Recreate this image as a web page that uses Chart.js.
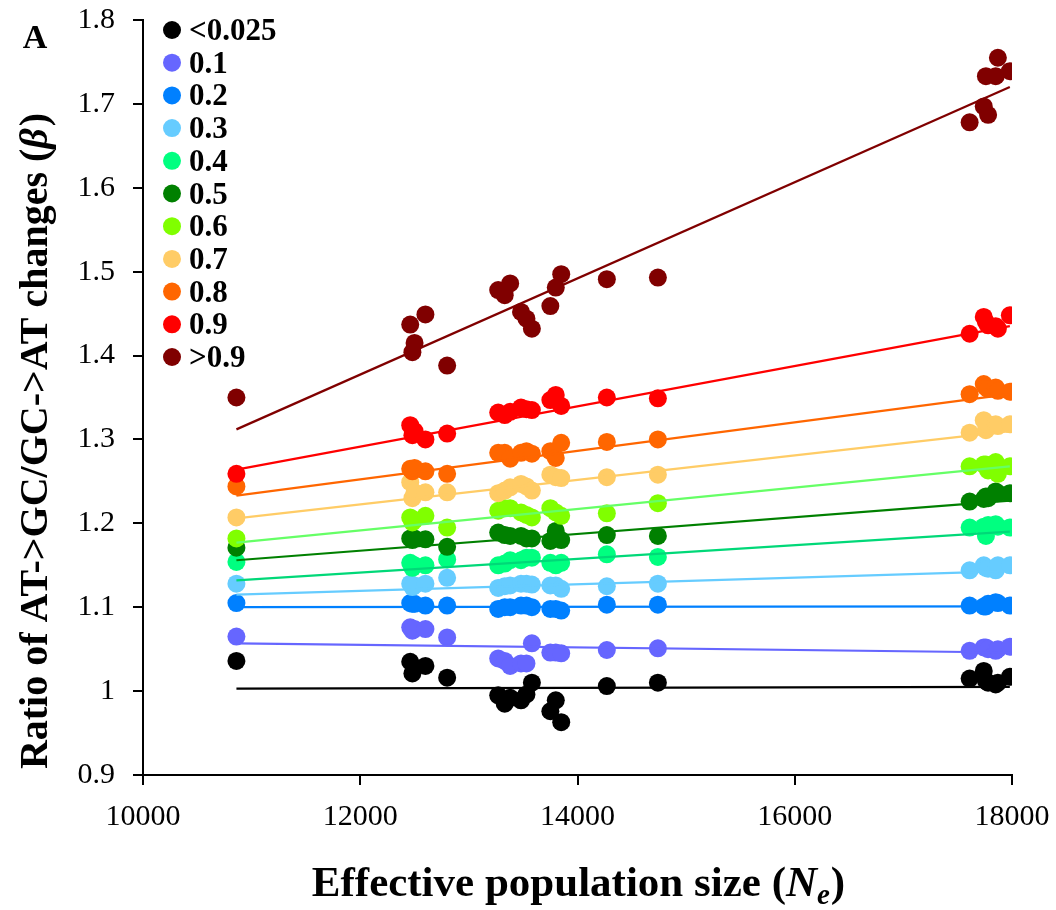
<!DOCTYPE html>
<html>
<head>
<meta charset="utf-8">
<script src="https://cdn.jsdelivr.net/npm/chart.js@4.4.1/dist/chart.umd.min.js"></script>
<style>
  html, body { margin: 0; padding: 0; background: #fff; }
</style>
</head>
<body>
<canvas id="chart" width="1056" height="910"></canvas>
<script>
// Effective population size of each population (shared by every series)
const NE = [10860, 12460, 12480, 12500, 12600, 12800,
  13270, 13330, 13380, 13480, 13530, 13580, 13750, 13800, 13850,
  14270, 14740, 17610, 17740, 17760, 17780, 17850, 17870, 17980];

const LEVELS = ["<0.025", "0.1", "0.2", "0.3", "0.4", "0.5", "0.6", "0.7", "0.8", "0.9", ">0.9"];
const COLORS = ["#000000", "#6666ff", "#0080ff", "#66ccff", "#00ff80", "#008000",
  "#80ff00", "#ffcc66", "#ff6600", "#ff0000", "#800000"];
const LINE_COLORS = ["#000000", "#6666ff", "#0080ff", "#66ccff", "#00d878", "#008000",
  "#66ff66", "#ffcc66", "#ff6600", "#ff0000", "#800000"];

// beta per population, one array per frequency class
const ratioBelow0025 = [1.036, 1.035, 1.021, 1.028, 1.030, 1.016, 0.995, 0.985, 0.992, 0.989, 0.996, 1.010, 0.976, 0.989, 0.963, 1.006, 1.010, 1.015, 1.024, 1.012, 1.010, 1.008, 1.010, 1.017];
const ratio01 = [1.065, 1.076, 1.072, 1.074, 1.074, 1.064, 1.039, 1.036, 1.030, 1.033, 1.033, 1.057, 1.046, 1.046, 1.045, 1.049, 1.051, 1.048, 1.052, 1.052, 1.050, 1.048, 1.050, 1.053];
const ratio02 = [1.105, 1.105, 1.104, 1.104, 1.102, 1.102, 1.098, 1.100, 1.100, 1.102, 1.102, 1.100, 1.098, 1.098, 1.096, 1.103, 1.103, 1.102, 1.101, 1.101, 1.104, 1.106, 1.105, 1.102];
const ratio03 = [1.128, 1.128, 1.124, 1.126, 1.128, 1.135, 1.123, 1.125, 1.126, 1.128, 1.128, 1.127, 1.126, 1.126, 1.122, 1.125, 1.128, 1.144, 1.150, 1.147, 1.146, 1.144, 1.150, 1.150];
const ratio04 = [1.154, 1.153, 1.147, 1.150, 1.150, 1.157, 1.150, 1.152, 1.156, 1.156, 1.159, 1.159, 1.153, 1.150, 1.153, 1.163, 1.160, 1.195, 1.196, 1.185, 1.198, 1.199, 1.196, 1.195];
const ratio05 = [1.171, 1.182, 1.180, 1.182, 1.181, 1.172, 1.189, 1.186, 1.185, 1.185, 1.182, 1.182, 1.179, 1.191, 1.180, 1.186, 1.185, 1.226, 1.229, 1.232, 1.230, 1.238, 1.236, 1.236];
const ratio06 = [1.182, 1.207, 1.201, 1.204, 1.209, 1.195, 1.215, 1.218, 1.218, 1.213, 1.210, 1.207, 1.218, 1.213, 1.209, 1.212, 1.224, 1.268, 1.270, 1.270, 1.263, 1.273, 1.259, 1.268];
const ratio07 = [1.207, 1.249, 1.230, 1.237, 1.237, 1.237, 1.236, 1.239, 1.243, 1.247, 1.244, 1.239, 1.258, 1.255, 1.254, 1.255, 1.258, 1.308, 1.323, 1.311, 1.318, 1.318, 1.316, 1.318];
const ratio08 = [1.244, 1.265, 1.262, 1.266, 1.262, 1.259, 1.284, 1.284, 1.277, 1.284, 1.286, 1.283, 1.286, 1.278, 1.296, 1.297, 1.300, 1.354, 1.366, 1.362, 1.360, 1.362, 1.358, 1.357];
const ratio09 = [1.259, 1.317, 1.305, 1.310, 1.300, 1.307, 1.332, 1.329, 1.333, 1.338, 1.336, 1.335, 1.347, 1.353, 1.340, 1.350, 1.349, 1.426, 1.446, 1.440, 1.436, 1.435, 1.432, 1.448];
const ratioAbove09 = [1.350, 1.437, 1.404, 1.415, 1.449, 1.388, 1.478, 1.472, 1.486, 1.452, 1.444, 1.432, 1.459, 1.481, 1.497, 1.491, 1.493, 1.678, 1.697, 1.733, 1.687, 1.733, 1.755, 1.739];

const SERIES = [ratioBelow0025, ratio01, ratio02, ratio03, ratio04, ratio05, ratio06, ratio07, ratio08, ratio09, ratioAbove09];

// linear trend lines: value at the smallest and largest Ne
const trendStart = [1.003, 1.057, 1.100, 1.115, 1.132, 1.156, 1.177, 1.206, 1.233, 1.264, 1.312];
const trendEnd = [1.005, 1.046, 1.101, 1.143, 1.190, 1.227, 1.268, 1.310, 1.354, 1.435, 1.720];

const FONT = "'Liberation Serif', 'Times New Roman', serif";
const neMin = Math.min(...NE), neMax = Math.max(...NE);

const datasets = [];
SERIES.forEach((vals, i) => {
  datasets.push({
    type: "scatter",
    label: LEVELS[i],
    data: NE.map((x, k) => ({ x, y: vals[k] })),
    backgroundColor: COLORS[i],
    borderWidth: 0,
    pointRadius: 9,
    pointHoverRadius: 9,
    order: 30 - i
  });
});
SERIES.forEach((vals, i) => {
  datasets.push({
    type: "line",
    label: "trend " + LEVELS[i],
    data: [{ x: neMin, y: trendStart[i] }, { x: neMax, y: trendEnd[i] }],
    borderColor: LINE_COLORS[i],
    borderWidth: 2.2,
    pointRadius: 0,
    fill: false,
    order: 0
  });
});

/* ── Extras: panel letter, inset legend, axis titles ─────────*/
const extras = {
  id: "extras",
  afterDraw(chart) {
    const ctx = chart.ctx;
    ctx.save();
    ctx.fillStyle = "#000";

    // panel letter
    ctx.font = `bold 34px ${FONT}`;
    ctx.textAlign = "center";
    ctx.textBaseline = "middle";
    ctx.fillText("A", 35, 39);

    // legend inside plot
    ctx.textAlign = "left";
    ctx.font = `bold 31px ${FONT}`;
    LEVELS.forEach((lab, i) => {
      const cy = 30 + i * 32.7;
      ctx.beginPath();
      ctx.fillStyle = COLORS[i];
      ctx.arc(172, cy, 9, 0, Math.PI * 2);
      ctx.fill();
      ctx.fillStyle = "#000";
      ctx.fillText(lab, 189, cy + 2);
    });

    // x title with italic N subscript e
    ctx.textBaseline = "alphabetic";
    const XF = 43;
    const base = "Effective population size (";
    ctx.font = `bold ${XF}px ${FONT}`;
    const w1 = ctx.measureText(base).width;
    ctx.font = `italic bold ${XF}px ${FONT}`;
    const wN = ctx.measureText("N").width;
    ctx.font = `italic bold 29px ${FONT}`;
    const wE = ctx.measureText("e").width;
    ctx.font = `bold ${XF}px ${FONT}`;
    const wP = ctx.measureText(")").width;
    let x = 578 - (w1 + wN + wE + wP) / 2;
    const by = 896;
    ctx.fillText(base, x, by); x += w1;
    ctx.font = `italic bold ${XF}px ${FONT}`;
    ctx.fillText("N", x, by); x += wN;
    ctx.font = `italic bold 29px ${FONT}`;
    ctx.fillText("e", x, by + 8); x += wE + 1;
    ctx.font = `bold ${XF}px ${FONT}`;
    ctx.fillText(")", x, by);

    // y title rotated, with italic beta
    const YF = 40;
    ctx.translate(47, 442);
    ctx.rotate(-Math.PI / 2);
    const yt = "Ratio of AT->GC/GC->AT changes (";
    ctx.font = `bold ${YF}px ${FONT}`;
    const a1 = ctx.measureText(yt).width;
    const a3 = ctx.measureText(")").width;
    ctx.font = `italic bold ${YF}px ${FONT}`;
    const a2 = ctx.measureText("\u03B2").width;
    let tx = -(a1 + a2 + a3) / 2;
    ctx.font = `bold ${YF}px ${FONT}`;
    ctx.fillText(yt, tx, 0); tx += a1;
    ctx.font = `italic bold ${YF}px ${FONT}`;
    ctx.fillText("\u03B2", tx, 0); tx += a2 + 2;
    ctx.font = `bold ${YF}px ${FONT}`;
    ctx.fillText(")", tx, 0);
    ctx.restore();
  }
};

new Chart(document.getElementById("chart"), {
  data: { datasets },
  options: {
    responsive: false,
    animation: false,
    layout: { padding: { top: 20, right: 44, left: 0, bottom: 0 } },
    plugins: { legend: { display: false }, tooltip: { enabled: false } },
    scales: {
      x: {
        type: "linear",
        min: 10000, max: 18000,
        afterFit: s => { s.height = 135; s.paddingLeft = 0; s.paddingRight = 0; },
        ticks: { stepSize: 2000, color: "#000", padding: 14, font: { family: FONT, size: 30 }, callback: v => String(v) },
        grid: { drawOnChartArea: false, drawTicks: true, tickLength: 10, color: "#000", lineWidth: 2 },
        border: { color: "#000", width: 2 }
      },
      y: {
        min: 0.9, max: 1.8,
        afterFit: s => { s.width = 143; s.paddingTop = 0; s.paddingBottom = 0; },
        ticks: {
          stepSize: 0.1, color: "#000", padding: 18,
          font: { family: FONT, size: 30 },
          callback: v => String(Number(v.toFixed(1)))
        },
        grid: { drawOnChartArea: false, drawTicks: true, tickLength: 10, color: "#000", lineWidth: 2 },
        border: { color: "#000", width: 2 }
      }
    }
  },
  plugins: [extras]
});
</script>
</body>
</html>
